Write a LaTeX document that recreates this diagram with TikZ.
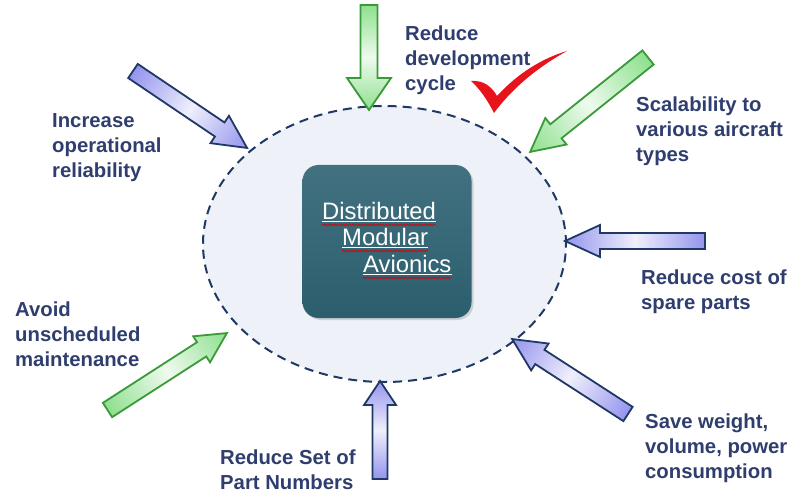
\documentclass[tikz,border=0pt]{standalone}
\usepackage{fontspec}
\setmainfont{Liberation Sans}
\usetikzlibrary{calc,shapes.geometric,decorations.pathmorphing,shadows}
\definecolor{navy}{HTML}{1F3864}
\definecolor{txt}{HTML}{2F3E6E}
\definecolor{gedge}{HTML}{3A9A3A}
\definecolor{gfill}{HTML}{8EE08E}
\definecolor{bfill}{HTML}{9494EE}
\definecolor{tealbox}{HTML}{2D6272}
\definecolor{ellfill}{HTML}{EEF2F8}
\definecolor{chk}{HTML}{E8141B}
\tikzset{
  lbl/.style={anchor=north west, inner sep=0pt, align=left, text=txt,
    font=\fontsize{20.3}{25}\selectfont\bfseries},
  boxtext/.style={anchor=base west, inner sep=0pt, text=white,
    font=\fontsize{23.8}{27}\selectfont},
  garrow/.style={draw=gedge, line width=1.8pt, line join=miter,
    left color=gfill, right color=gfill, middle color=white!85!gfill},
  barrow/.style={draw=navy, line width=1.8pt, line join=miter,
    left color=bfill, right color=bfill, middle color=white!85!bfill},
  wline/.style={white, line width=1.1pt},
  squig/.style={chk!80!black, line width=0.8pt,
    decorate, decoration={snake, amplitude=0.9pt, segment length=3pt}},
}
% #1 style, #2 tail, #3 angle, #4 length, #5 shaft width, #6 head width, #7 head length
\newcommand\blockarrow[7]{%
  \begin{scope}[transform canvas={shift={(#2)}, rotate=#3}]
    \path[#1] (0,-#5/2) -- ({#4-#7},-#5/2) -- ({#4-#7},-#6/2) -- (#4,0)
      -- ({#4-#7},#6/2) -- ({#4-#7},#5/2) -- (0,#5/2) -- cycle;
  \end{scope}}
\begin{document}
\begin{tikzpicture}[x=1pt,y=-1pt]
\fill[white] (0,0) rectangle (794,494);
\useasboundingbox (0,0) rectangle (794,494);

% ellipse
\node[ellipse, draw=navy, line width=2pt, dash pattern=on 9pt off 6pt,
  fill=ellfill, minimum width=363pt, minimum height=276pt, inner sep=0pt]
  (ell) at (384.5,244) {};

% central box
\node[rounded corners=16pt, minimum width=169pt, minimum height=153pt,
  top color=tealbox!90!white, bottom color=tealbox!96!black, inner sep=0pt,
  drop shadow={shadow xshift=2pt, shadow yshift=-2pt, opacity=0.3}]
  (box) at (387,241.5) {};
\node[boxtext] (d1) at (322,219) {Distributed};
\node[boxtext] (d2) at (342,245) {Modular};
\node[boxtext] (d3) at (363,272) {Avionics};
\foreach \n in {d1,d2,d3}{
  \draw[wline] ([yshift=-2.5pt]\n.south west) -- ([yshift=-2.5pt]\n.south east);
  \draw[squig] ([yshift=-5.5pt]\n.south west) -- ([yshift=-5.5pt]\n.south east);
}

% arrows
\blockarrow{garrow}{369,5}{-90}{105}{17}{44}{32}
\blockarrow{barrow}{133,71}{-34.0}{137.6}{17}{33}{33}
\blockarrow{garrow}{648,57.5}{-141.3}{151}{18}{34}{33}
\blockarrow{barrow}{705,241}{180}{140}{16}{32}{35}
\blockarrow{garrow}{107.5,410}{32.8}{142}{17}{31}{30}
\blockarrow{barrow}{380,479}{90}{98}{15}{32}{24}
\blockarrow{barrow}{628,414}{147.1}{138}{17}{32}{33}

% labels
\node[lbl] (l1) at (405,26) {Reduce\\development\\cycle};
\node[lbl] (l2) at (52,113) {Increase\\operational\\reliability};
\node[lbl] (l3) at (636,97) {Scalability to\\various aircraft\\types};
\node[lbl] (l4) at (641,270) {Reduce cost of\\spare parts};
\node[lbl] (l5) at (15,302) {Avoid\\unscheduled\\maintenance};
\node[lbl] (l6) at (220,450) {Reduce Set of\\Part Numbers};
\node[lbl] (l7) at (645,414) {Save weight,\\volume, power\\consumption};

% check mark
\fill[chk] (471,81) .. controls (484,80) and (492,87) .. (497,96)
  .. controls (518,73) and (543,58) .. (567,51)
  .. controls (540,66) and (514,86) .. (494,113)
  .. controls (488,101) and (480,89) .. (471,81) -- cycle;
\end{tikzpicture}
\end{document}
